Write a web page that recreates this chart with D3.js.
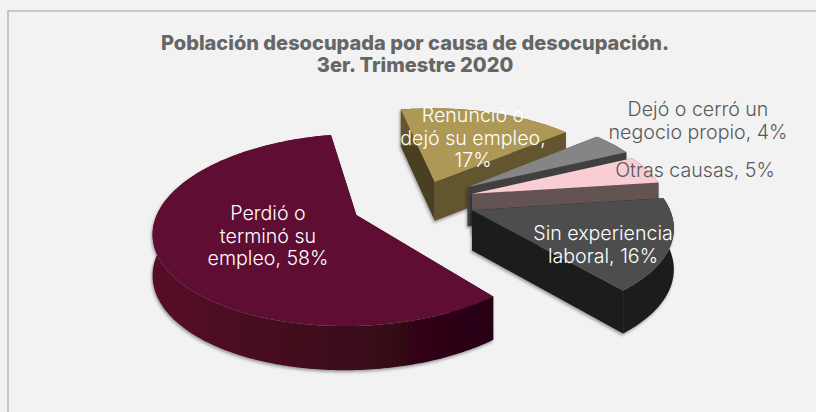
<!DOCTYPE html>
<html><head><meta charset="utf-8">
<script src="https://cdn.jsdelivr.net/npm/d3@7/dist/d3.min.js"></script>
<style>html,body{margin:0;padding:0;background:#f2f2f2}svg{display:block}</style>
</head><body><div id="c"></div>
<script>
const titleLines = ["Población desocupada por causa de desocupación.", "3er. Trimestre 2020"];
const categories = ["Perdió o terminó su empleo", "Renunció o dejó su empleo", "Dejó o cerró un negocio propio", "Otras causas", "Sin experiencia laboral"];
const values = [58, 17, 4, 5, 16];
const labelLines = [["Perdió o", "terminó su", "empleo,"], ["Renunció o", "dejó su empleo,", ""], ["Dejó o cerró un", "negocio propio,"], ["Otras causas,"], ["Sin experiencia", "laboral,"]];

const topColors = ["#5f1130", "#ae9856", "#858585", "#f8cdd3", "#4d4d4d"];
const outerColors = ["url(#wallGrad)", "#64572f", "#3f3f3f", "#645252", "#1e1e1e"];
const startWall = ["#2a0513", "#4a3f24", "#4a4a4a", "#645252", "#1e1e1e"];
const endWall = ["#2a0513", "#64572f", "#3f3f3f", "#645252", "#1e1e1e"];
const explode = [69, 46, 58, 55, 55];
const labelColors = ["#fff", "#fff", "#595959", "#595959", "#fff"];
const labelAnchors = [[268, 220], [473, 122], [698, 116], [695, 177], [603, 240]];
const drawOrder = [1, 2, 3, 4, 0];

const W = 816, H = 412, R = 195, P = 0.15, K = 0.46, DEPTH = 40;
const CX = 420, CY = 201;
const startDeg = 140;

const svg = d3.select("#c").append("svg").attr("width", W).attr("height", H);
const defs = svg.append("defs");
const g0 = defs.append("linearGradient").attr("id", "wallGrad").attr("gradientUnits", "userSpaceOnUse")
  .attr("x1", 155).attr("x2", 497).attr("y1", 0).attr("y2", 0);
g0.append("stop").attr("offset", 0).attr("stop-color", "#561028");
g0.append("stop").attr("offset", 1).attr("stop-color", "#270311");
const f = defs.append("filter").attr("id", "sh").attr("x", "-10%").attr("y", "-10%").attr("width", "120%").attr("height", "125%");
f.append("feDropShadow").attr("dx", -1).attr("dy", 2).attr("stdDeviation", 1.6).attr("flood-color", "#000").attr("flood-opacity", 0.35);

svg.append("rect").attr("width", W).attr("height", H).attr("fill", "#f2f2f2");
svg.append("rect").attr("x", 8).attr("y", 11).attr("width", W + 20).attr("height", H + 20)
  .attr("fill", "#f2f2f2").attr("stroke", "#b9b9b9").attr("stroke-width", 1.5);

const xScale = d3.scaleLinear().domain([-R, R]).range([CX - R, CX + R]);
const yScale = d3.scaleLinear().domain([-R, R]).range([CY - R * K, CY + R * K]);
function project(X, Y, z) {
  const s = 1 / (1 - P * Y / R);
  return [xScale(X * s), yScale(Y * s) + z * (1 + (s - 1) * 0.5)];
}
const line = d3.line();
const pie = d3.pie().sort(null)
  .startAngle(startDeg * Math.PI / 180)
  .endAngle((startDeg + 360) * Math.PI / 180);
const arcs = pie(values);

drawOrder.forEach(i => {
  const a = arcs[i], mid = (a.startAngle + a.endAngle) / 2, e = explode[i];
  const ox = Math.sin(mid) * e, oy = -Math.cos(mid) * e;
  const apex = z => project(ox, oy, z);
  const n = Math.max(4, Math.round((a.endAngle - a.startAngle) * 60));
  const rim = z => d3.range(n + 1).map(j => {
    const t = a.startAngle + (a.endAngle - a.startAngle) * j / n;
    return project(ox + Math.sin(t) * R, oy - Math.cos(t) * R, z);
  });
  const top = rim(0), bot = rim(DEPTH);
  const g = svg.append("g").attr("filter", "url(#sh)");
  g.append("path").attr("d", line([apex(0), top[0], bot[0], apex(DEPTH)]) + "Z").attr("fill", startWall[i]);
  g.append("path").attr("d", line([apex(0), top[n], bot[n], apex(DEPTH)]) + "Z").attr("fill", endWall[i]);
  g.append("path").attr("d", line(top.concat(bot.slice().reverse())) + "Z").attr("fill", outerColors[i]);
  g.append("path").attr("d", line([apex(0)].concat(top)) + "Z").attr("fill", topColors[i]);
});

const titleG = svg.append("g").attr("text-anchor", "middle")
  .attr("font-family", "Inter, 'Open Sans', sans-serif").attr("font-weight", 800).attr("font-size", 20).attr("fill", "#666");
titleLines.forEach((t, i) => titleG.append("text").attr("x", 415).attr("y", 50 + i * 22).text(t));

values.forEach((v, i) => {
  const g = svg.append("g").attr("text-anchor", "middle")
    .attr("font-family", "Inter, Lato, sans-serif").attr("font-weight", 300).attr("font-size", 19.6).attr("fill", labelColors[i]);
  labelLines[i].forEach((l, j, arr) => {
    const txt = j === arr.length - 1 ? (l + " " + v + "%").trim() : l;
    g.append("text").attr("x", labelAnchors[i][0]).attr("y", labelAnchors[i][1] + j * 22.5).text(txt);
  });
});
</script></body></html>
